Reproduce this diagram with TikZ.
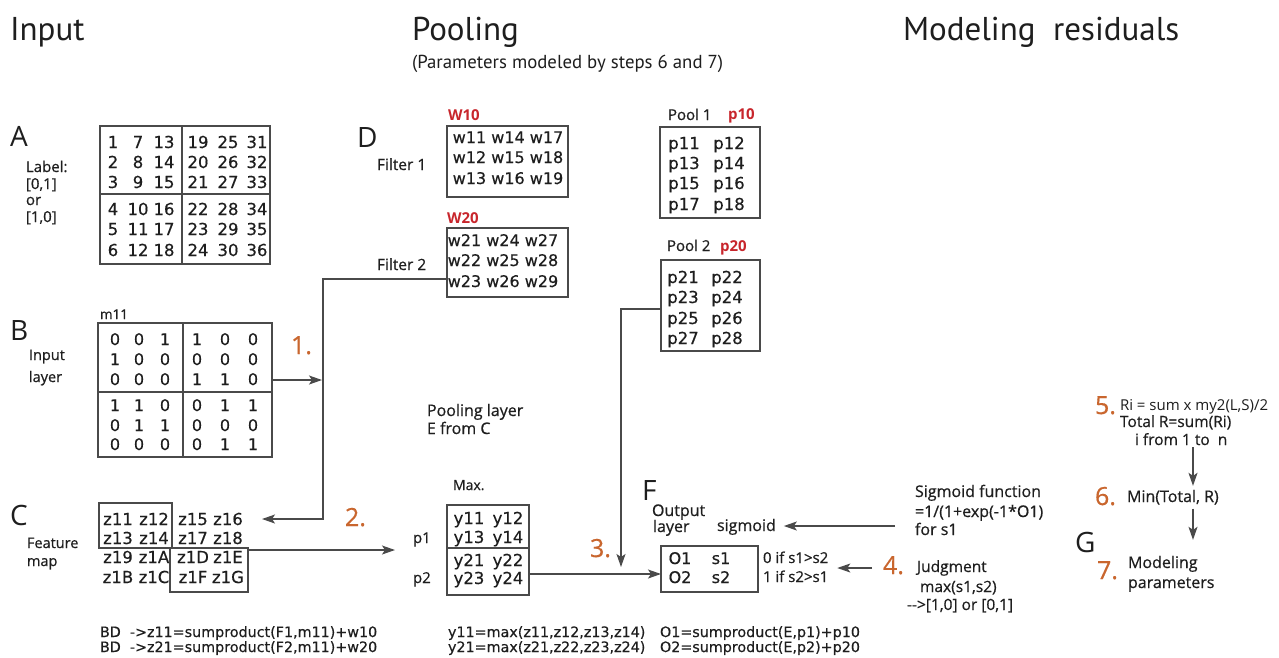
\documentclass[tikz,border=0pt]{standalone}
\usepackage{fontspec}
\setmainfont{Open Sans}
\newfontfamily\labfont[FakeBold=0.6]{Open Sans}
\newfontfamily\datafont[FakeBold=0.4]{DejaVu Sans}
\newfontfamily\titlefont{PT Sans}
\usetikzlibrary{arrows.meta}
\definecolor{orng}{HTML}{C9662E}
\definecolor{redl}{HTML}{C8262C}
\definecolor{ln}{HTML}{4A4A4A}
\definecolor{tx}{HTML}{1E1E1E}
\newcommand\fsz[1]{\fontsize{#1}{#1}\selectfont}
\newcommand\bx[5]{\node[box, minimum width={#4-#2}, minimum height={#5-#3}] (#1) at ({(#2+#4)/2},{(#3+#5)/2}) {};}
\begin{document}
\begin{tikzpicture}[x=1pt,y=-1pt,
  every node/.style={inner sep=0pt, outer sep=0pt, text=tx},
  title/.style={font=\titlefont\fsz{33}, anchor=base west},
  sub/.style={font=\titlefont\fsz{18.8}, anchor=base west},
  big/.style={font=\fsz{28}, anchor=base west},
  lab/.style={font=\labfont\fsz{#1}, anchor=base west},
  lab/.default=15,
  redlab/.style={font=\bfseries\fsz{15}, text=redl, anchor=base west},
  num/.style={font=\labfont\fsz{25}, text=orng, anchor=base west},
  dat/.style={font=\datafont\fsz{#1}, anchor=base},
  dat/.default=16.5,
  frm/.style={font=\datafont\fsz{14.3}, anchor=base west},
  box/.style={draw=ln, line width=1.6pt},
  div/.style={draw=ln, line width=1.6pt},
  arr/.style={draw=ln, line width=1.3pt, -{Stealth[length=13pt,width=9pt,inset=3pt]}}
]
\useasboundingbox[fill=white] (0,0) rectangle (1279,657);

% ---------- titles
\node[title] (tin) at (10,40) {Input};
\node[title] (tpool) at (412,40) {Pooling};
\node[title] (tmod) at (903,40) {Modeling\ \ residuals};
\node[sub] (tsub) at (412,68) {(Parameters modeled by steps 6 and 7)};

% ---------- A
\node[big] (la) at (10,146) {A};
\node[lab] (lab1) at (26,172) {Label:};
\node[lab] (lab2) at (26,189) {[0,1]};
\node[lab] (lab3) at (26,205) {or};
\node[lab] (lab4) at (26,222) {[1,0]};
\bx{abox}{100}{126}{270}{264}
\draw[div] (182,126) -- (182,264);
\draw[div] (100,194) -- (270,194);
\foreach \r in {1,...,6}{
  \pgfmathsetmacro\yy{{148,168,188,215,235,256}[\r-1]}
  \foreach \c in {1,...,6}{
    \pgfmathsetmacro\xx{{113,138,164,198,228,257}[\c-1]}
    \pgfmathtruncatemacro\v{(\c-1)*6+\r}
    \node[dat=16.5] (a-\r-\c) at (\xx,\yy) {\v};
  }
}

% ---------- B
\node[big] (lb) at (10,340) {B};
\node[lab=14.5] (inl1) at (29,360) {Input};
\node[lab=14.5] (inl2) at (29,382) {layer};
\node[lab=13.5] (m11) at (100,319) {m11};
\bx{bbox}{98}{323}{272}{457}
\draw[div] (183,323) -- (183,457);
\draw[div] (98,392) -- (272,392);
\foreach \vals [count=\r] in {{0,0,1,1,0,0},{1,0,0,0,0,0},{0,0,0,1,1,0},{1,1,0,0,1,1},{0,1,1,0,0,0},{0,0,0,0,1,1}}{
  \pgfmathsetmacro\yy{{345,365,385,411,431,450}[\r-1]}
  \foreach \v [count=\c] in \vals {
    \pgfmathsetmacro\xx{{115,139,165,197,225,253}[\c-1]}
    \node[dat=16] (b-\r-\c) at (\xx,\yy) {\v};
  }
}
\node[num] (n1) at (291,354) {1.};

% ---------- C
\node[big] (lc) at (10,525) {C};
\node[lab=14.5] (fm1) at (27,548) {Feature};
\node[lab=14.5] (fm2) at (27,566) {map};
\bx{cbox1}{99}{503}{172}{548}
\bx{cbox2}{170}{548}{248}{592}
\foreach \toks [count=\r] in {{z11,z12,z15,z16},{z13,z14,z17,z18},{z19,z1A,z1D,z1E},{z1B,z1C,z1F,z1G}}{
  \pgfmathsetmacro\yy{{525,544,563,583}[\r-1]}
  \foreach \t [count=\c] in \toks {
    \pgfmathsetmacro\xx{{118,154,193,228}[\c-1]}
    \node[dat] (c-\r-\c) at (\xx,\yy) {\t};
  }
}
\node[num] (n2) at (345,526) {2.};
\node[frm] (fb1) at (100,637) {BD\ \ -{}>z11=sumproduct(F1,m11)+w10};
\node[frm] (fb2) at (100,652) {BD\ \ -{}>z21=sumproduct(F2,m11)+w20};

% ---------- D filters
\node[big] (ld) at (357,147) {D};
\node[lab=15.5] (f1l) at (377,170) {Filter 1};
\node[lab=15.5] (f2l) at (377,270) {Filter 2};
\node[redlab] (w10) at (448,120) {W10};
\node[redlab] (w20) at (447,223) {W20};
\bx{d1box}{447}{126}{568}{197}
\bx{d2box}{447}{228}{568}{297}
\node[dat=16] (d1r1) at (508,143) {w11 w14 w17};
\node[dat=16] (d1r2) at (508,163) {w12 w15 w18};
\node[dat=16] (d1r3) at (508,184) {w13 w16 w19};
\node[dat=16] (d2r1) at (503,246) {w21 w24 w27};
\node[dat=16] (d2r2) at (503,266) {w22 w25 w28};
\node[dat=16] (d2r3) at (503,287) {w23 w26 w29};

% ---------- pools
\node[lab] (pl1) at (668,120) {Pool 1};
\node[redlab] (p10) at (728,119) {p10};
\bx{p1box}{660}{127}{760}{218}
\node[lab] (pl2) at (667,251) {Pool 2};
\node[redlab] (p20) at (720,251) {p20};
\bx{p2box}{661}{260}{760}{351}
\foreach \toks [count=\r] in {{p11,p12},{p13,p14},{p15,p16},{p17,p18}}{
  \pgfmathsetmacro\yy{{149,169,189,210}[\r-1]}
  \foreach \t [count=\c] in \toks {
    \pgfmathsetmacro\xx{{684,729}[\c-1]}
    \node[dat] (pa-\r-\c) at (\xx,\yy) {\t};
  }
}
\foreach \toks [count=\r] in {{p21,p22},{p23,p24},{p25,p26},{p27,p28}}{
  \pgfmathsetmacro\yy{{283,303,324,344}[\r-1]}
  \foreach \t [count=\c] in \toks {
    \pgfmathsetmacro\xx{{683,727}[\c-1]}
    \node[dat] (pb-\r-\c) at (\xx,\yy) {\t};
  }
}

% ---------- pooling layer (E)
\node[lab=16] (pll1) at (427,416) {Pooling layer};
\node[lab=16] (pll2) at (427,434) {E from C};
\node[lab=14] (maxl) at (453,490) {Max.};
\node[lab] (pp1) at (413,543) {p1};
\node[lab] (pp2) at (413,583) {p2};
\bx{maxbox}{447}{505}{529}{595}
\draw[div] (447,548) -- (529,548);
\foreach \toks [count=\r] in {{y11,y12},{y13,y14},{y21,y22},{y23,y24}}{
  \pgfmathsetmacro\yy{{524,543,566,584}[\r-1]}
  \foreach \t [count=\c] in \toks {
    \pgfmathsetmacro\xx{{469,508}[\c-1]}
    \node[dat] (y-\r-\c) at (\xx,\yy) {\t};
  }
}
\node[frm] (fy1) at (448,637) {y11=max(z11,z12,z13,z14)};
\node[frm] (fy2) at (448,652) {y21=max(z21,z22,z23,z24)};
\node[num] (n3) at (590,557) {3.};

% ---------- F output
\node[big] (lf) at (642,500) {F};
\node[lab=16] (ol1) at (652,516) {Output};
\node[lab=16] (ol2) at (653,532) {layer};
\node[lab=16] (sigl) at (717,531) {sigmoid};
\bx{fbox}{661}{546}{758}{592}
\node[dat=16] (o1) at (680,564) {O1};
\node[dat=16] (s1) at (721,564) {s1};
\node[dat=16] (o2) at (680,583) {O2};
\node[dat=16] (s2) at (721,583) {s2};
\node[lab] (if1) at (763,563) {0 if s1>s2};
\node[lab] (if2) at (763,582) {1 if s2>s1};
\node[frm] (fo1) at (660,637) {O1=sumproduct(E,p1)+p10};
\node[frm] (fo2) at (660,652) {O2=sumproduct(E,p2)+p20};

% ---------- sigmoid / judgment
\node[lab=16] (sg1) at (915,497) {Sigmoid function};
\node[lab=16] (sg2) at (915,517) {=1/(1+exp(-1*O1)};
\node[lab=16] (sg3) at (915,535) {for s1};
\node[num] (n4) at (883,574) {4.};
\node[lab=15.5] (jd1) at (917,572) {Judgment};
\node[lab=15.5] (jd2) at (920,592) {max(s1,s2)};
\node[lab=15.5] (jd3) at (907,610) {-{}->[1,0] or [0,1]};

% ---------- G residuals
\node[num] (n5) at (1095,414) {5.};
\node[font=\fsz{15}, anchor=base west] (r1) at (1120,410) {Ri = sum x my2(L,S)/2};
\node[lab=15.5] (r2) at (1120,427) {Total R=sum(Ri)};
\node[lab=15.5] (r3) at (1135,445) {i from 1 to\ \ n};
\node[num] (n6) at (1095,505) {6.};
\node[lab=16] (minl) at (1127,502) {Min(Total, R)};
\node[big] (lg) at (1075,552) {G};
\node[num] (n7) at (1097,579) {7.};
\node[lab=16] (mp1) at (1128,568) {Modeling};
\node[lab=16] (mp2) at (1128,588) {parameters};

% ---------- connectors
\coordinate (j1) at (322,380);
\draw[arr] (bbox.east |- j1) -- (j1);
\coordinate (fx) at (323,279);
\coordinate (cin) at (262,519);
\draw[arr] (d2box.west |- fx) -- (fx) -- (fx |- cin) -- (cin);
\coordinate (cm) at (395,550);
\draw[arr] (cbox2.east |- cm) -- (cm);
\coordinate (pk) at (621,309);
\coordinate (pend) at (621,567);
\draw[arr] (p2box.west |- pk) -- (pk) -- (pend);
\coordinate (mf) at (600,574);
\draw[arr] (maxbox.east |- mf) -- (fbox.west |- mf);
\coordinate (sgs) at (895,526);
\draw[arr, shorten >=8pt] (sgs) -- (sgs -| sigl.east);
\coordinate (a4) at (872,568);
\draw[arr, shorten >=9pt] (a4) -- (a4 -| if1.east);
\coordinate (ax) at (1193,0);
\draw[arr, shorten <=2pt, shorten >=4pt] (ax |- r3.south) -- (ax |- minl.north);
\draw[arr, shorten <=4pt, shorten >=16pt] (ax |- minl.south) -- (ax |- mp1.north);
\end{tikzpicture}
\end{document}
